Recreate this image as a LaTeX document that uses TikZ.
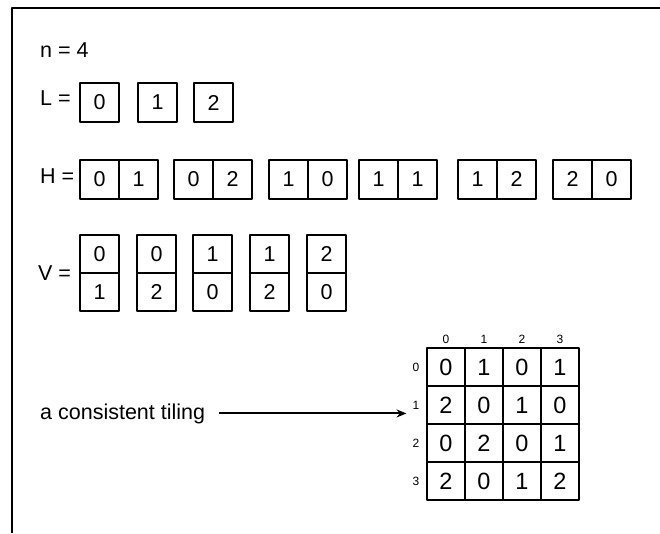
\documentclass[tikz,border=0pt]{standalone}
\usepackage{fontspec}
\setmainfont{Liberation Sans}
\usetikzlibrary{arrows.meta}
\begin{document}
\begin{tikzpicture}[x=1pt,y=-1pt,line join=round,
  txt/.style={anchor=base west,inner sep=0pt,font=\fontsize{21.5}{25}\selectfont},
  tile/.style={draw,line width=2pt,inner sep=0pt,minimum width=39pt,
    minimum height=39pt,font=\fontsize{21.5}{25}\selectfont},
  vtile/.style={tile,minimum height=38pt},
  cell/.style={draw,line width=2.5pt,inner sep=0pt,minimum size=38pt,
    font=\fontsize{23.5}{27}\selectfont},
  idx/.style={inner sep=2pt,font=\fontsize{12}{14}\selectfont}]
  \useasboundingbox (0,0) rectangle (660,533);
  \draw[line width=2.2pt] (12,533) -- (12,8) -- (660,8);
  \node[txt] (n) at (40,57) {n = 4};
  % labels
  \node[txt] (L) at (40,105) {L =};
  \foreach \v/\x in {0/99.5,1/157.5,2/213.5}
    \node[tile] (L\v) at (\x,102.5) {\v};
  % horizontal pairs
  \node[txt] (H) at (40,183) {H =};
  \foreach \a/\b/\x [count=\i] in {0/1/80,0/2/174,1/0/269,1/1/359,1/2/458,2/0/553} {
    \node[tile] (Ha\i) at (\x+19.5,179) {\a};
    \node[tile] (Hb\i) at (\x+58.5,179) {\b};
  }
  % vertical pairs
  \node[txt] (V) at (38,280) {V =};
  \foreach \a/\b/\x [count=\i] in {0/1/80,0/2/137,1/0/193,1/2/250,2/0/307} {
    \node[vtile] (Va\i) at (\x+19.5,254) {\a};
    \node[vtile] (Vb\i) at (\x+19.5,292) {\b};
  }
  % the tiling
  \foreach \row [count=\r from 0] in {{0,1,0,1},{2,0,1,0},{0,2,0,1},{2,0,1,2}}
    \foreach \v [count=\c from 0] in \row
      \node[cell] (g\r\c) at (446+38*\c,367+38*\r) {\v};
  \foreach \c in {0,...,3}
    \node[idx] (c\c) at (446+38*\c,339) {\c};
  \foreach \r in {0,...,3}
    \node[idx] (r\r) at (416,367+38*\r) {\r};
  \node[txt] (tiling) at (40,419) {a consistent tiling};
  \draw[line width=2pt,-{Stealth[length=10pt,width=8pt]},shorten <=14pt,shorten >=4pt]
    (tiling.east) -- (tiling.east -| r1.west);
\end{tikzpicture}
\end{document}
